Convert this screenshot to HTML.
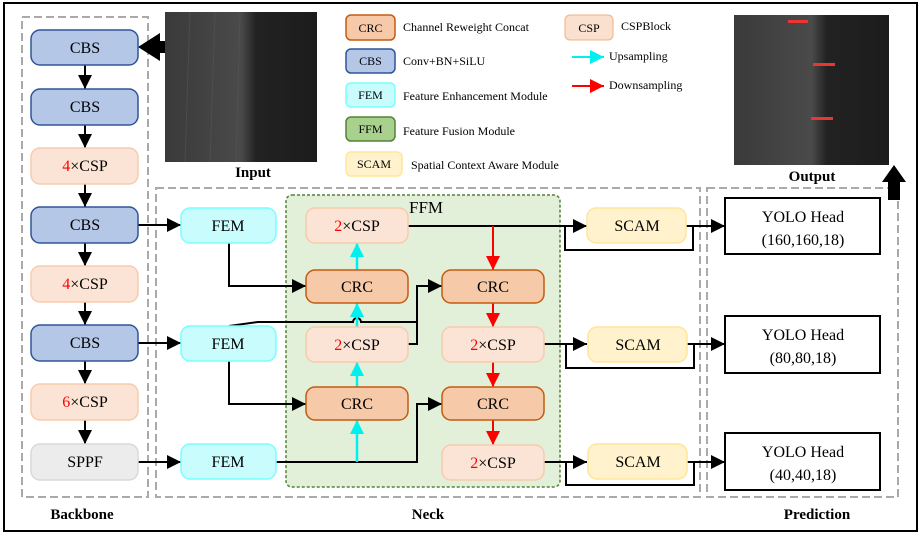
<!DOCTYPE html>
<html><head><meta charset="utf-8"><style>
html,body{margin:0;padding:0;background:#fff;}
svg{display:block;font-family:"Liberation Serif",serif;}
</style></head><body>
<svg width="921" height="536" viewBox="0 0 921 536" xmlns="http://www.w3.org/2000/svg">
<defs>
<marker id="ab" viewBox="0 0 10 10" refX="10" refY="5" markerWidth="5" markerHeight="5" markerUnits="userSpaceOnUse" orient="auto"><path d="M0,0L10,5L0,10z" fill="#000"/></marker>
<marker id="abk" viewBox="0 0 10 10" refX="10" refY="5" markerWidth="14" markerHeight="14" markerUnits="userSpaceOnUse" orient="auto"><path d="M0,0L10,5L0,10z" fill="#000"/></marker>
<marker id="ac" viewBox="0 0 10 10" refX="10" refY="5" markerWidth="14" markerHeight="14" markerUnits="userSpaceOnUse" orient="auto"><path d="M0,0L10,5L0,10z" fill="#00f0f0"/></marker>
<marker id="ar" viewBox="0 0 10 10" refX="10" refY="5" markerWidth="14" markerHeight="14" markerUnits="userSpaceOnUse" orient="auto"><path d="M0,0L10,5L0,10z" fill="#f00"/></marker>
<linearGradient id="img" x1="0" x2="1" y1="0" y2="0"><stop offset="0" stop-color="#3a3a3a"/><stop offset="0.5" stop-color="#4a4a4a"/><stop offset="0.6" stop-color="#222"/><stop offset="1" stop-color="#1c1c1c"/></linearGradient>
</defs>
<rect x="4" y="3" width="913" height="528" fill="#fff" stroke="#000" stroke-width="2"/>

<!-- dashed groups -->
<g fill="none" stroke="#aaa" stroke-width="2" stroke-dasharray="8,4">
<rect x="22" y="17" width="126" height="480"/>
<rect x="156" y="188" width="544" height="309"/>
<rect x="707" y="188" width="191" height="309"/>
</g>
<rect x="286" y="195" width="274" height="292" rx="6" fill="#e2efd9" stroke="#548235" stroke-width="1.5" stroke-dasharray="3,2"/>
<text x="426" y="213" font-size="17" text-anchor="middle">FFM</text>

<!-- images -->
<rect x="165" y="12" width="152" height="150" fill="url(#img)"/>
<g stroke="#555" stroke-width="1" opacity="0.6"><line x1="190" y1="12" x2="185" y2="162"/><line x1="215" y1="12" x2="210" y2="162"/><line x1="240" y1="12" x2="236" y2="162"/></g>
<rect x="734" y="15" width="155" height="150" fill="url(#img)"/>
<g fill="#e33"><rect x="788" y="20" width="20" height="3"/><rect x="813" y="63" width="22" height="3"/><rect x="811" y="117" width="22" height="3"/></g>
<text x="253" y="177" font-size="15" font-weight="bold" text-anchor="middle">Input</text>
<text x="812" y="181" font-size="15" font-weight="bold" text-anchor="middle">Output</text>
<!-- big arrows -->
<path d="M165,41 L160,41 L160,33 L138,47 L160,61 L160,53 L165,53z" fill="#000"/>
<path d="M888,200 L888,182 L882,182 L894,165 L906,182 L900,182 L900,200z" fill="#000"/>

<!-- legend -->
<g font-size="12">
<rect x="346" y="15" width="49" height="25" rx="5" fill="#f6c9a8" stroke="#c55a11" stroke-width="1.5"/><text x="370.5" y="32" text-anchor="middle">CRC</text><text x="403" y="31">Channel Reweight Concat</text>
<rect x="346" y="49" width="49" height="24" rx="5" fill="#b4c7e7" stroke="#2f5597" stroke-width="1.5"/><text x="370.5" y="65" text-anchor="middle">CBS</text><text x="403" y="65">Conv+BN+SiLU</text>
<rect x="346" y="83" width="49" height="24" rx="5" fill="#c9fcfc" stroke="#7ff" stroke-width="1.5"/><text x="370.5" y="99" text-anchor="middle">FEM</text><text x="403" y="100">Feature Enhancement Module</text>
<rect x="346" y="117" width="49" height="24" rx="5" fill="#a9d18e" stroke="#548235" stroke-width="1.5"/><text x="370.5" y="133" text-anchor="middle">FFM</text><text x="403" y="135">Feature Fusion Module</text>
<rect x="346" y="152" width="56" height="24" rx="5" fill="#fff2cc" stroke="#ffe699" stroke-width="1.5"/><text x="374" y="168" text-anchor="middle">SCAM</text><text x="411" y="169">Spatial Context Aware Module</text>
<rect x="565" y="15" width="48" height="25" rx="5" fill="#f9e0cf" stroke="#f4b183" stroke-width="1"/><text x="589" y="32" text-anchor="middle">CSP</text><text x="621" y="30">CSPBlock</text>
<line x1="572" y1="57" x2="604" y2="57" stroke="#00f0f0" stroke-width="2" marker-end="url(#ac)"/><text x="609" y="60">Upsampling</text>
<line x1="572" y1="86" x2="604" y2="86" stroke="#f00" stroke-width="2" marker-end="url(#ar)"/><text x="609" y="89">Downsampling</text>
</g>

<!-- connectors -->
<g stroke="#000" stroke-width="2" fill="none">
<line x1="85" y1="65" x2="85" y2="89" marker-end="url(#abk)"/>
<line x1="85" y1="125" x2="85" y2="148" marker-end="url(#abk)"/>
<line x1="85" y1="184" x2="85" y2="207" marker-end="url(#abk)"/>
<line x1="85" y1="243" x2="85" y2="266" marker-end="url(#abk)"/>
<line x1="85" y1="302" x2="85" y2="325" marker-end="url(#abk)"/>
<line x1="85" y1="361" x2="85" y2="384" marker-end="url(#abk)"/>
<line x1="85" y1="420" x2="85" y2="444" marker-end="url(#abk)"/>
<line x1="138" y1="225" x2="181" y2="225" marker-end="url(#abk)"/>
<line x1="138" y1="343" x2="181" y2="343" marker-end="url(#abk)"/>
<line x1="138" y1="462" x2="181" y2="462" marker-end="url(#abk)"/>
<polyline points="229,243 229,286 306,286" marker-end="url(#abk)"/>
<polyline points="229,361 229,404 306,404" marker-end="url(#abk)"/>
<path d="M229,326 L258,322 L353,322 A4,4 0 0 1 361,322 L417,322"/>
<polyline points="408,344 417,344 417,286 442,286" marker-end="url(#abk)"/>
<polyline points="276,462 417,462 417,404 442,404" marker-end="url(#abk)"/>
<line x1="408" y1="226" x2="587" y2="226" marker-end="url(#abk)"/>
<line x1="544" y1="344" x2="587" y2="344" marker-end="url(#abk)"/>
<line x1="544" y1="462" x2="587" y2="462" marker-end="url(#abk)"/>
<polyline points="565,226 565,250 693,250 693,226"/>
<polyline points="566,344 566,368 694,368 694,344"/>
<polyline points="566,462 566,485 694,485 694,462"/>
<line x1="686" y1="226" x2="725" y2="226" marker-end="url(#abk)"/>
<line x1="686" y1="344" x2="725" y2="344" marker-end="url(#abk)"/>
<line x1="686" y1="462" x2="725" y2="462" marker-end="url(#abk)"/>
</g>
<g stroke="#00f0f0" stroke-width="2.5">
<line x1="357" y1="462" x2="357" y2="420" marker-end="url(#ac)"/>
<line x1="357" y1="387" x2="357" y2="362" marker-end="url(#ac)"/>
<line x1="357" y1="327" x2="357" y2="303" marker-end="url(#ac)"/>
<line x1="357" y1="270" x2="357" y2="243" marker-end="url(#ac)"/>
</g>
<g stroke="#f00" stroke-width="2">
<line x1="493" y1="226" x2="493" y2="270" marker-end="url(#ar)"/>
<line x1="493" y1="303" x2="493" y2="327" marker-end="url(#ar)"/>
<line x1="493" y1="362" x2="493" y2="387" marker-end="url(#ar)"/>
<line x1="493" y1="420" x2="493" y2="445" marker-end="url(#ar)"/>
</g>

<!-- boxes -->
<g font-size="16" text-anchor="middle">
<g fill="#b4c7e7" stroke="#2f5597" stroke-width="1.5">
<rect x="31" y="30" width="107" height="35" rx="9"/><rect x="31" y="89" width="107" height="36" rx="9"/>
<rect x="31" y="207" width="107" height="36" rx="9"/><rect x="31" y="325" width="107" height="36" rx="9"/>
</g>
<g fill="#fbe4d5" stroke="#f8cbad" stroke-width="1.5">
<rect x="31" y="148" width="107" height="36" rx="9"/><rect x="31" y="266" width="107" height="36" rx="9"/><rect x="31" y="384" width="107" height="36" rx="9"/>
<rect x="306" y="208" width="102" height="35" rx="9"/><rect x="306" y="327" width="102" height="35" rx="9"/>
<rect x="442" y="327" width="102" height="35" rx="9"/><rect x="442" y="445" width="102" height="35" rx="9"/>
</g>
<rect x="31" y="444" width="107" height="36" rx="9" fill="#ececec" stroke="#d9d9d9" stroke-width="1.5"/>
<g fill="#c9fcfc" stroke="#7ff" stroke-width="1.5">
<rect x="181" y="208" width="95" height="35" rx="9"/><rect x="181" y="326" width="95" height="35" rx="9"/><rect x="181" y="444" width="95" height="35" rx="9"/>
</g>
<g fill="#f6c9a8" stroke="#c55a11" stroke-width="1.5">
<rect x="306" y="270" width="102" height="33" rx="9"/><rect x="306" y="387" width="102" height="33" rx="9"/>
<rect x="442" y="270" width="102" height="33" rx="9"/><rect x="442" y="387" width="102" height="33" rx="9"/>
</g>
<g fill="#fff2cc" stroke="#ffe699" stroke-width="1.5">
<rect x="587" y="208" width="99" height="35" rx="9"/><rect x="588" y="327" width="99" height="35" rx="9"/><rect x="588" y="444" width="99" height="35" rx="9"/>
</g>
<g fill="#fff" stroke="#000" stroke-width="2">
<rect x="725" y="198" width="155" height="56"/><rect x="725" y="316" width="155" height="57"/><rect x="725" y="433" width="155" height="57"/>
</g>
<text x="85" y="53">CBS</text><text x="85" y="112">CBS</text>
<text x="85" y="171"><tspan fill="#f00">4</tspan>×CSP</text>
<text x="85" y="230">CBS</text>
<text x="85" y="289"><tspan fill="#f00">4</tspan>×CSP</text>
<text x="85" y="348">CBS</text>
<text x="85" y="407"><tspan fill="#f00">6</tspan>×CSP</text>
<text x="85" y="467">SPPF</text>
<text x="228" y="231">FEM</text><text x="228" y="349">FEM</text><text x="228" y="467">FEM</text>
<text x="357" y="231"><tspan fill="#f00">2</tspan>×CSP</text>
<text x="357" y="292">CRC</text>
<text x="357" y="350"><tspan fill="#f00">2</tspan>×CSP</text>
<text x="357" y="409">CRC</text>
<text x="493" y="292">CRC</text>
<text x="493" y="350"><tspan fill="#f00">2</tspan>×CSP</text>
<text x="493" y="409">CRC</text>
<text x="493" y="468"><tspan fill="#f00">2</tspan>×CSP</text>
<text x="637" y="231">SCAM</text><text x="638" y="350">SCAM</text><text x="638" y="467">SCAM</text>
<text x="803" y="222">YOLO Head</text><text x="803" y="245">(160,160,18)</text>
<text x="803" y="340">YOLO Head</text><text x="803" y="363">(80,80,18)</text>
<text x="803" y="457">YOLO Head</text><text x="803" y="480">(40,40,18)</text>
</g>
<g font-size="15" font-weight="bold" text-anchor="middle">
<text x="82" y="519">Backbone</text><text x="428" y="519">Neck</text><text x="817" y="519">Prediction</text>
</g>
</svg>
</body></html>
